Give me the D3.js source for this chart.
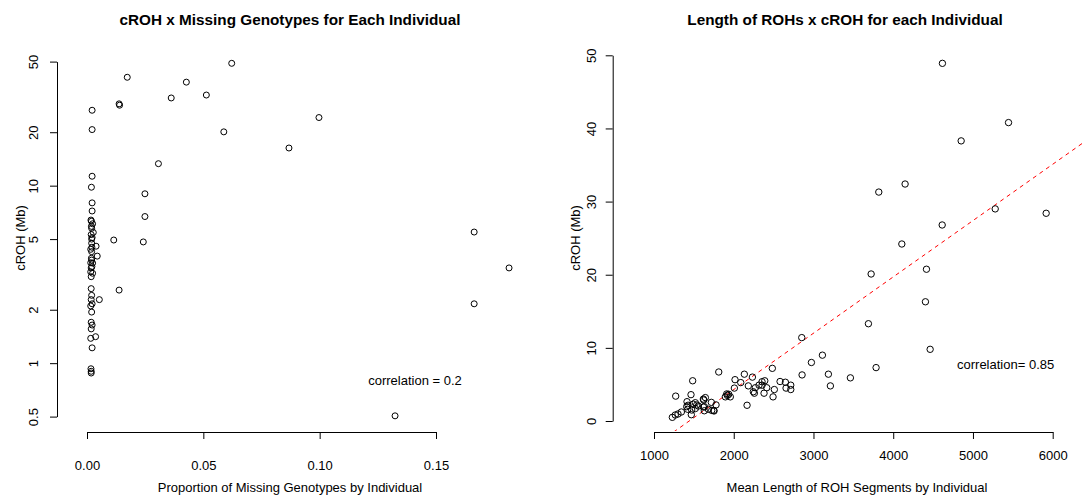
<!DOCTYPE html>
<html>
<head>
<meta charset="utf-8">
<script src="https://cdn.jsdelivr.net/npm/d3@7"></script>
<style>
  html, body { margin: 0; padding: 0; background: #fff; }
  svg { display: block; font-family: "Liberation Sans", Arial, sans-serif; }
  .axis text { font-size: 13px; fill: #000; }
  .axis path, .axis line { stroke: #000; stroke-width: 1; }
</style>
</head>
<body>
<svg id="chart" width="1084" height="502"></svg>
<script>
// Panel 1: proportion of missing genotypes vs cROH (log scale)
const missingProp = [
  0.0622, 0.0173, 0.0427, 0.0513, 0.0362, 0.0138, 0.0140, 0.0022, 0.0997, 0.0022,
  0.0588, 0.0868, 0.0307, 0.0022, 0.0019, 0.0249, 0.0022, 0.0022, 0.0249, 0.0017,
  0.0024, 0.0020, 0.0027, 0.1664, 0.0018, 0.0022, 0.0020, 0.0115, 0.0242, 0.0020,
  0.0039, 0.0016, 0.0020, 0.0044, 0.0020, 0.0016, 0.0024, 0.1814, 0.0018, 0.0016,
  0.0024, 0.0018, 0.0138, 0.0018, 0.0020, 0.0053, 0.0018, 0.0022, 0.1664, 0.0016,
  0.0020, 0.0018, 0.0022, 0.0018, 0.0016, 0.0037, 0.0022, 0.0017, 0.0018, 0.0018,
  0.1324, 0.0019, 0.0021, 0.0019, 0.0021, 0.0019
];
const crohMissing = [
  48.9, 40.8, 38.3, 32.4, 31.2, 28.9, 28.4, 26.6, 24.2, 20.7,
  20.1, 16.3, 13.3, 11.3, 9.8, 9.0, 8.0, 7.2, 6.7, 6.4,
  6.1, 5.75, 5.45, 5.48, 5.3, 5.1, 5.0, 4.94, 4.82, 4.74,
  4.56, 4.38, 4.25, 4.01, 3.81, 3.68, 3.66, 3.44, 3.44, 3.27,
  3.21, 3.07, 2.58, 2.63, 2.41, 2.28, 2.28, 2.16, 2.16, 2.10,
  1.94, 1.70, 1.64, 1.56, 1.38, 1.41, 1.22, 0.93, 0.90, 0.88,
  0.505, 5.9, 4.5, 3.9, 3.5, 6.3
];
const leftXTicks = [0, 0.05, 0.10, 0.15];
const leftYTicks = [0.5, 1, 2, 5, 10, 20, 50];

// Panel 2: mean ROH segment length vs cROH
const meanLength = [
  4617, 5446, 4852, 4149, 3819, 5279, 5918, 4614, 4108, 4417,
  3723, 4404, 3689, 4463, 2853, 3112, 2974, 3785, 2484, 2857,
  3187, 3463, 2581, 2648, 2715, 2656, 2715, 3212, 2509, 2493,
  1812, 2133, 2234, 1485, 2016, 2088, 2389, 2355, 2183, 2271,
  2414, 2246, 2259, 2380, 2008, 1937, 1920, 1957, 1895, 2167,
  1272, 1464, 1619, 1644, 1427, 1493, 1556, 1619, 1719, 1778,
  1724, 1749, 1682, 1518, 1473, 1423, 1343, 1301, 1267, 1230,
  1468, 1631, 1518, 1536, 1624, 1631, 1753, 1912, 2317, 2355,
  1414, 1410
];
const crohLength = [
  48.9, 40.8, 38.3, 32.4, 31.3, 29.0, 28.4, 26.8, 24.2, 20.75,
  20.1, 16.3, 13.3, 9.8, 11.4, 9.0, 8.0, 7.3, 7.2, 6.3,
  6.4, 5.9, 5.4, 5.3, 4.9, 4.5, 4.3, 4.8, 4.3, 3.3,
  6.7, 6.4, 6.0, 5.5, 5.65, 5.25, 5.5, 4.9, 4.8, 4.55,
  4.55, 4.0, 3.8, 3.8, 4.5, 3.65, 3.5, 3.3, 3.3, 2.15,
  3.4, 3.6, 3.0, 3.2, 2.15, 2.3, 2.05, 1.9, 2.55, 2.2,
  1.45, 1.45, 1.6, 1.7, 1.5, 1.6, 1.23, 0.96, 0.82, 0.5,
  0.86, 1.4, 2.5, 2.19, 2.87, 1.96, 1.37, 3.7, 4.9, 5.37,
  2.64, 1.96
];
const rightXTicks = [1000, 2000, 3000, 4000, 5000, 6000];
const rightYTicks = [0, 10, 20, 30, 40, 50];

// Least-squares fit line (cROH ~ mean length)
const fitSlope = 0.00770;
const fitIntercept = -11.1;

const svg = d3.select("#chart");

function titleText(x, y, txt) {
  svg.append("text")
    .attr("x", x).attr("y", y)
    .attr("text-anchor", "middle")
    .style("font-size", "15.3px").style("font-weight", "bold")
    .text(txt);
}
function plainText(x, y, txt, anchor) {
  svg.append("text")
    .attr("x", x).attr("y", y)
    .attr("text-anchor", anchor || "middle")
    .style("font-size", "13px")
    .text(txt);
}
function vertText(x, y, txt) {
  svg.append("text")
    .attr("transform", `translate(${x},${y}) rotate(-90)`)
    .attr("text-anchor", "middle")
    .style("font-size", "13px")
    .text(txt);
}

function yAxis(scale, x, ticks, fmt, labelX) {
  const g = svg.append("g").attr("class", "axis")
    .attr("transform", `translate(${x},0)`)
    .call(d3.axisLeft(scale).tickValues(ticks).tickFormat(fmt).tickSize(7).tickSizeOuter(0));
  g.selectAll(".tick text")
    .attr("x", null).attr("dy", null)
    .attr("text-anchor", "middle")
    .attr("transform", `translate(${labelX - x},0) rotate(-90)`);
  return g;
}
function xAxis(scale, y, ticks, fmt, labelY) {
  const g = svg.append("g").attr("class", "axis")
    .attr("transform", `translate(0,${y})`)
    .call(d3.axisBottom(scale).tickValues(ticks).tickFormat(fmt).tickSize(7).tickSizeOuter(0));
  g.selectAll(".tick text").attr("dy", null).attr("y", labelY - y);
  return g;
}

// ---------- Left panel ----------
const xL = d3.scaleLinear().domain([0, 0.15]).range([87, 436]);
const yL = d3.scaleLog().domain([0.5, 50]).range([416.6, 61.6]);

titleText(290, 24.5, "cROH x Missing Genotypes for Each Individual");
yAxis(yL, 57, leftYTicks, d => String(d), 38);
xAxis(xL, 432, leftXTicks, d3.format(".2f"), 470);
vertText(25, 238, "cROH (Mb)");
plainText(290, 492, "Proportion of Missing Genotypes by Individual");
plainText(415, 385, "correlation = 0.2");

svg.append("g").selectAll("circle")
  .data(missingProp.map((v, i) => [v, crohMissing[i]]))
  .join("circle")
  .attr("cx", d => xL(d[0]))
  .attr("cy", d => yL(d[1]))
  .attr("r", 3)
  .attr("fill", "none").attr("stroke", "#000").attr("stroke-width", 1);

// ---------- Right panel ----------
const xR = d3.scaleLinear().domain([1000, 6000]).range([654, 1052.7]);
const yR = d3.scaleLinear().domain([0, 50]).range([421, 55.3]);

titleText(845, 24.5, "Length of ROHs x cROH for each Individual");
yAxis(yR, 612.7, rightYTicks, d => String(d), 596);
xAxis(xR, 432, rightXTicks, d => String(d), 460);
vertText(580, 238, "cROH (Mb)");
plainText(857, 492, "Mean Length of ROH Segments by Individual");
plainText(957, 369, "correlation= 0.85", "start");

svg.append("defs").append("clipPath").attr("id", "fitClip")
  .append("rect").attr("x", 613).attr("y", 40).attr("width", 471).attr("height", 391);

const xLo = 1000, xHi = 6500;
svg.append("line")
  .attr("clip-path", "url(#fitClip)")
  .attr("x1", xR(xLo)).attr("y1", yR(fitIntercept + fitSlope * xLo))
  .attr("x2", xR(xHi)).attr("y2", yR(fitIntercept + fitSlope * xHi))
  .attr("stroke", "#ff0000").attr("stroke-width", 1)
  .attr("stroke-dasharray", "4,4");

svg.append("g").selectAll("circle")
  .data(meanLength.map((v, i) => [v, crohLength[i]]))
  .join("circle")
  .attr("cx", d => xR(d[0]))
  .attr("cy", d => yR(d[1]))
  .attr("r", 3.2)
  .attr("fill", "none").attr("stroke", "#000").attr("stroke-width", 1);
</script>
</body>
</html>
